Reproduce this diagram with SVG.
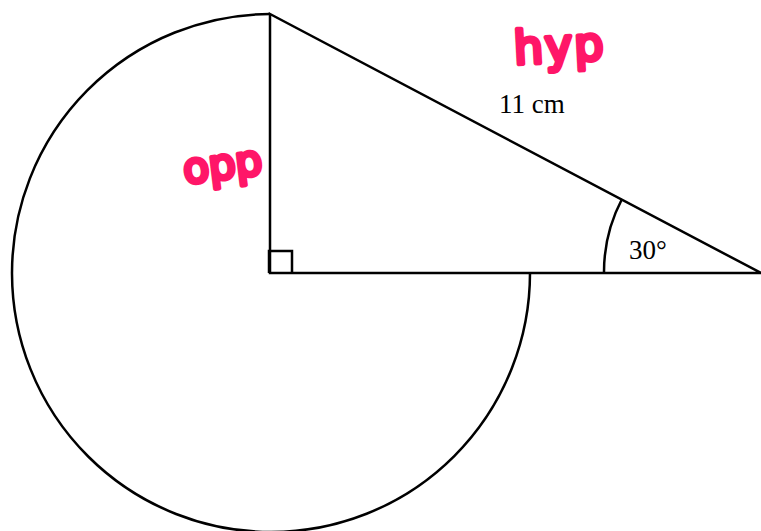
<svg xmlns="http://www.w3.org/2000/svg" width="761" height="531" viewBox="0 0 761 531">
<style>
.ln{fill:none;stroke:#000;stroke-width:2.5;stroke-linejoin:miter}
.lbl{font-family:"Liberation Serif",serif;font-size:27px;fill:#000}
.hand{font-family:"DejaVu Sans",sans-serif;fill:#ff1668;stroke:#ff1668;stroke-width:4.5;stroke-linejoin:round;stroke-linecap:round}
</style>
<rect width="761" height="531" fill="#fff"/>
<g id="connectors">
<path class="ln" d="M270,14 A259,259 0 1,0 530,273"/>
<path class="ln" d="M270,14 L270,273 L761,273 Z"/>
<path class="ln" d="M269,273 V251 H292 V273"/>
<path class="ln" d="M604,273 A157,157 0 0,1 622,199"/>
</g>
<g id="label-hyp-length"><text class="lbl" x="499" y="113">11 cm</text></g>
<g id="label-angle"><text class="lbl" x="629" y="259">30°</text></g>
<g id="label-hyp"><text class="hand" font-size="46" x="514" y="62" letter-spacing="2" transform="rotate(-3 555 50)">hyp</text></g>
<g id="label-opp"><text class="hand" font-size="42" x="183" y="179" transform="rotate(-7 222 165)">opp</text></g>
</svg>
